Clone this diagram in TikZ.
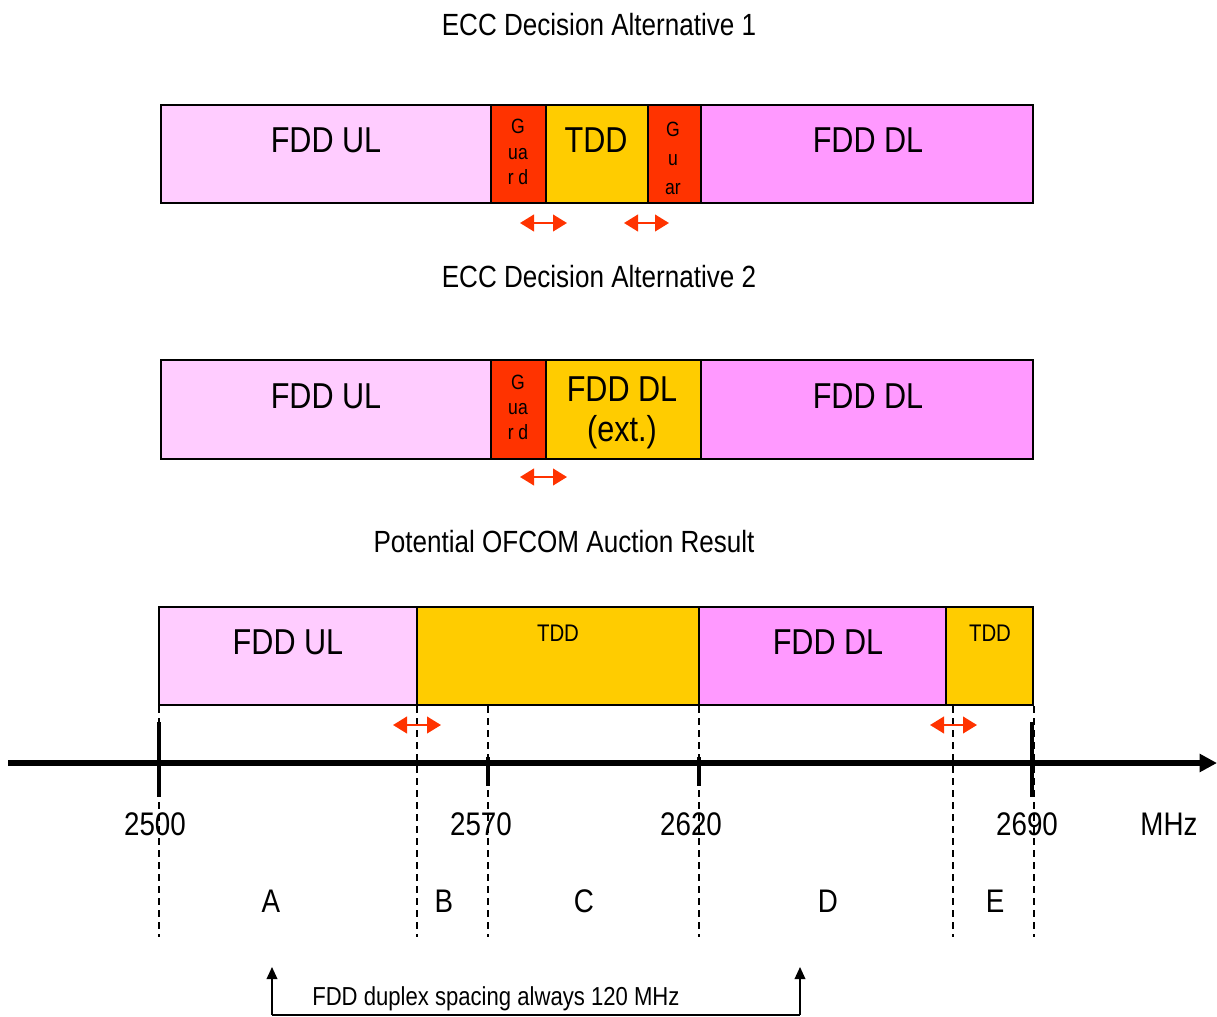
\documentclass[tikz,border=0pt]{standalone}
\usepackage{fontspec}
\setmainfont{Liberation Sans}[FakeStretch=0.85]
\usetikzlibrary{arrows.meta,fit}
\definecolor{ulc}{HTML}{FFCCFF}
\definecolor{dlc}{HTML}{FF99FF}
\definecolor{tddc}{HTML}{FFCC00}
\definecolor{grdc}{HTML}{FF3300}
\begin{document}
\begin{tikzpicture}[x=0.75pt,y=-0.75pt,
  band/.style={draw=black, line width=1.1pt, inner sep=0pt},
  big/.style={font=\fontsize{27}{30}\selectfont, inner sep=0pt, anchor=base},
  ttl/.style={font=\fontsize{23}{26}\selectfont, inner sep=0pt, anchor=base},
  grdtxt/.style={font=\fontsize{15.5}{17}\selectfont, inner sep=0pt, anchor=base},
  smalltdd/.style={font=\fontsize{18}{20}\selectfont, inner sep=0pt, anchor=base},
  axlbl/.style={font=\fontsize{24.5}{28}\selectfont, inner sep=0pt, anchor=base},
  redarr/.style={draw=grdc, line width=1.5pt, {Triangle[length=10.5pt,width=12.5pt]}-{Triangle[length=10.5pt,width=12.5pt]}},
  dsh/.style={line width=1.1pt, dash pattern=on 5pt off 4pt},
  tick/.style={line width=3pt},
]
\useasboundingbox (0,0) rectangle (1217,1017);

% ---------- Row 1 ----------
\node[ttl] (t1) at (599,35) {ECC Decision Alternative 1};
\node[band, fill=ulc, fit={(161,105)(491,203)}] (a1) {};
\node[band, fill=grdc, fit={(491,105)(546,203)}] (g1) {};
\node[band, fill=tddc, fit={(546,105)(648,203)}] (c1) {};
\node[band, fill=grdc, fit={(648,105)(701,203)}] (h1) {};
\node[band, fill=dlc, fit={(701,105)(1033,203)}] (d1) {};
\node[big] (a1t) at (326,152) {FDD UL};
\node[big] (c1t) at (596,152) {TDD};
\node[big] (d1t) at (868,152) {FDD DL};
\node[grdtxt] (g1a) at (518,133) {G};
\node[grdtxt] (g1b) at (518,159) {ua};
\node[grdtxt] (g1c) at (518,184) {r d};
\node[grdtxt] (h1a) at (673,136) {G};
\node[grdtxt] (h1b) at (673,165) {u};
\node[grdtxt] (h1c) at (673,194) {ar};
\coordinate (r1a) at (520,223); \coordinate (r1b) at (567,223);
\coordinate (r1c) at (624,223); \coordinate (r1d) at (669,223);
\draw[redarr] (r1a) -- (r1b);
\draw[redarr] (r1c) -- (r1d);

% ---------- Row 2 ----------
\node[ttl] (t2) at (599,287) {ECC Decision Alternative 2};
\node[band, fill=ulc, fit={(161,360)(491,459)}] (a2) {};
\node[band, fill=grdc, fit={(491,360)(546,459)}] (g2) {};
\node[band, fill=tddc, fit={(546,360)(701,459)}] (c2) {};
\node[band, fill=dlc, fit={(701,360)(1033,459)}] (d2) {};
\node[big] (a2t) at (326,408) {FDD UL};
\node[big] (c2t) at (622,401) {FDD DL};
\node[big] (c2u) at (622,441) {(ext.)};
\node[big] (d2t) at (868,408) {FDD DL};
\node[grdtxt] (g2a) at (518,389) {G};
\node[grdtxt] (g2b) at (518,414) {ua};
\node[grdtxt] (g2c) at (518,439) {r d};
\coordinate (r2a) at (520,477); \coordinate (r2b) at (567,477);
\draw[redarr] (r2a) -- (r2b);

% ---------- Row 3 ----------
\node[ttl] (t3) at (564,552) {Potential OFCOM Auction Result};
\node[band, fill=ulc, fit={(159,607)(417,705)}] (a3) {};
\node[band, fill=tddc, fit={(417,607)(699,705)}] (c3) {};
\node[band, fill=dlc, fit={(699,607)(946,705)}] (d3) {};
\node[band, fill=tddc, fit={(946,607)(1033,705)}] (e3) {};
\node[big] (a3t) at (288,654) {FDD UL};
\node[smalltdd] (c3t) at (558,641) {TDD};
\node[big] (d3t) at (828,654) {FDD DL};
\node[smalltdd] (e3t) at (990,641) {TDD};

% ---------- dashed markers ----------
\foreach \n/\x in {p/159,q/417,r/488,s/699,u/953,v/1034}{
  \coordinate (\n top) at (\x,706);
  \coordinate (\n bot) at (\x,937);
  \draw[dsh] (\n top) -- (\n bot);
}

\coordinate (r3a) at (393,725); \coordinate (r3b) at (441,725);
\coordinate (r3c) at (930,725); \coordinate (r3d) at (977,725);
\draw[redarr] (r3a) -- (r3b);
\draw[redarr] (r3c) -- (r3d);

% ---------- axis ----------
\coordinate (ax0) at (8,763);
\coordinate (ax1) at (1217,763);
\draw[line width=3.8pt, -{Triangle[length=13pt,width=13pt]}] (ax0) -- (ax1);
\coordinate (k1a) at (159,722); \coordinate (k1b) at (159,797);
\coordinate (k2a) at (488,757); \coordinate (k2b) at (488,786);
\coordinate (k3a) at (699,757); \coordinate (k3b) at (699,786);
\coordinate (k4a) at (1032,722); \coordinate (k4b) at (1032,797);
\draw[tick] (k1a) -- (k1b);
\draw[tick] (k2a) -- (k2b);
\draw[tick] (k3a) -- (k3b);
\draw[tick] (k4a) -- (k4b);

\node[axlbl] (l1) at (155,835) {2500};
\node[axlbl] (l2) at (481,835) {2570};
\node[axlbl] (l3) at (691,835) {2620};
\node[axlbl] (l4) at (1027,835) {2690};
\node[axlbl] (l5) at (1169,835) {MHz};

\node[axlbl] (la) at (271,912) {A};
\node[axlbl] (lb) at (444,912) {B};
\node[axlbl] (lc) at (584,912) {C};
\node[axlbl] (ld) at (828,912) {D};
\node[axlbl] (le) at (995,912) {E};

% ---------- duplex spacing ----------
\coordinate (b0) at (272,1015);
\coordinate (b1) at (272,967);
\coordinate (b2) at (800,1015);
\coordinate (b3) at (800,967);
\draw[line width=1.1pt, -{Triangle[length=9pt,width=8pt]}] (b0) -- (b1);
\draw[line width=1.1pt, -{Triangle[length=9pt,width=8pt]}] (b2) -- (b3);
\draw[line width=1.1pt] (b0) -- (b2);
\node[font=\fontsize{19.5}{22}\selectfont, inner sep=0pt, anchor=base west] (dup) at (312,1005) {FDD duplex spacing always 120 MHz};
\end{tikzpicture}
\end{document}
